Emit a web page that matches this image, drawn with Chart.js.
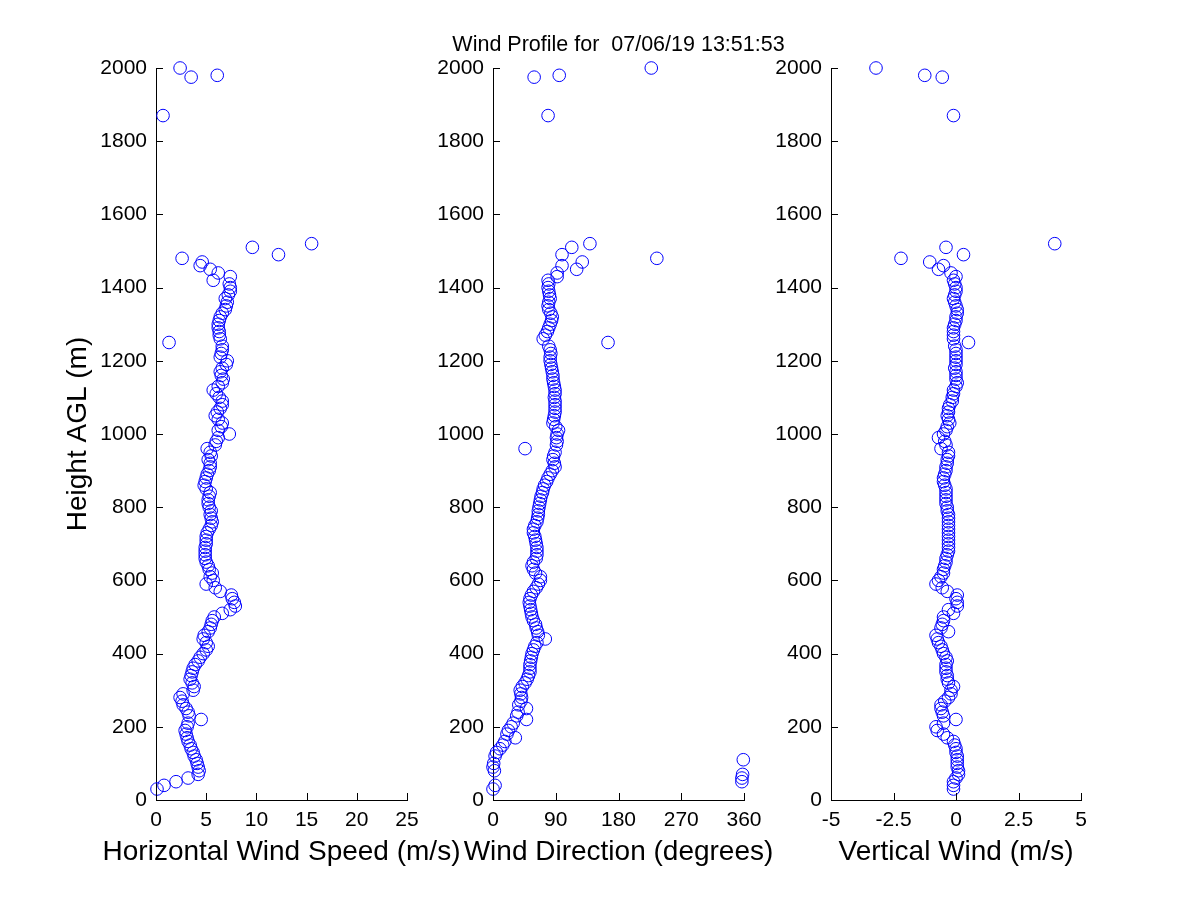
<!DOCTYPE html>
<html><head><meta charset="utf-8">
<script src="https://cdn.jsdelivr.net/npm/chart.js@4.4.1/dist/chart.umd.min.js"></script>
<style>
html,body{margin:0;padding:0;background:#fff;}
#wrap{position:relative;width:1200px;height:900px;background:#fff;}
canvas{position:absolute;left:0;top:0;}
</style>
</head><body>
<div id="wrap">
<canvas id="c1" width="1200" height="900"></canvas>
<canvas id="c2" width="1200" height="900"></canvas>
<canvas id="c3" width="1200" height="900"></canvas>
</div>
<script>
// Heights AGL (m)
const heights = [
  30,40,50,60,70,80,90,100,
  110,120,130,140,150,160,170,180,190,200,
  210,220,230,240,250,260,270,280,290,300,
  310,320,330,340,350,360,370,380,390,400,
  410,420,430,440,450,460,470,480,490,500,
  510,520,530,540,550,560,570,580,590,600,
  610,620,630,640,650,660,670,680,690,700,
  710,720,730,740,750,760,770,780,790,800,
  810,820,830,840,850,860,870,880,890,900,
  910,920,930,940,950,960,970,980,990,1000,
  1010,1020,1030,1040,1050,1060,1070,1080,1090,1100,
  1110,1120,1130,1140,1150,1160,1170,1180,1190,1200,
  1210,1220,1230,1240,1250,1260,1270,1280,1290,1300,
  1310,1320,1330,1340,1350,1360,1370,1380,1390,1400,
  1410,1420,1430,
  1440,1450,1460,1470,1480,1490,1510,1520,1870,1975,1980,2000
];
// Horizontal wind speed (m/s)
const speed = [
  0.1,0.8,2.0,3.2,4.2,4.3,4.2,4.1,
  4.0,3.8,3.7,3.5,3.4,3.2,3.1,3.0,2.9,3.1,
  3.2,4.5,3.3,3.2,3.0,2.7,2.6,2.4,2.7,3.7,
  3.8,3.6,3.4,3.5,3.6,3.7,3.9,4.2,4.4,4.7,
  5.0,5.2,5.0,4.7,4.8,5.2,5.4,5.5,5.6,5.8,
  6.6,7.4,7.9,7.8,7.6,7.5,6.4,5.9,5.0,5.7,
  5.4,5.6,5.3,5.2,5.0,4.9,4.9,4.9,4.9,5.0,
  5.0,5.0,5.1,5.3,5.5,5.6,5.5,5.4,5.5,5.3,
  5.2,5.2,5.3,5.4,5.0,4.8,4.9,5.0,5.1,5.3,
  5.4,5.4,5.2,5.5,5.4,5.1,5.9,6.0,6.2,7.3,
  6.2,6.5,6.6,6.2,5.9,6.1,6.4,6.6,6.6,6.3,
  6.0,5.7,6.2,6.6,6.7,6.5,6.4,6.6,7.0,7.1,
  6.4,6.5,6.6,6.6,1.3,6.4,6.3,6.3,6.2,6.2,
  6.3,6.4,6.6,6.9,7.0,7.1,6.9,7.2,7.4,7.4,
  7.3,5.7,7.4,
  6.2,5.4,4.4,4.6,2.6,12.2,9.6,15.5,0.7,3.5,6.1,2.4
];
// Wind direction (degrees)
const direction = [
  0,3,357,357,358,2,0,1,
  359,3,5,10,14,17,32,20,22,26,
  29,48,34,36,48,37,40,41,40,39,
  42,46,49,51,53,53,53,54,55,56,
  58,60,63,75,65,64,62,61,58,56,
  55,54,53,52,53,55,58,62,65,68,
  68,61,58,56,58,62,63,63,63,62,
  61,60,58,58,60,63,64,65,65,66,
  67,68,69,71,72,74,77,79,82,85,
  89,88,86,87,89,46,91,92,91,92,
  94,90,86,87,88,89,89,89,89,88,
  89,89,88,87,86,86,85,84,83,82,
  82,83,82,80,165,72,75,78,80,82,
  84,85,83,80,79,80,82,81,80,79,
  80,79,92,
  92,120,99,128,235,99,113,139,79,59,95,227
];
// Vertical wind (m/s)
const vertical = [
  -0.1,-0.1,-0.1,0.0,0.1,0.1,0.05,0.05,
  0.05,0.05,0.0,0.0,-0.05,-0.1,-0.35,-0.5,-0.75,-0.8,
  -0.5,0.0,-0.5,-0.55,-0.6,-0.6,-0.45,-0.3,-0.2,-0.2,
  -0.1,-0.3,-0.35,-0.35,-0.4,-0.4,-0.4,-0.35,-0.4,-0.5,
  -0.55,-0.6,-0.7,-0.75,-0.8,-0.3,-0.6,-0.55,-0.5,-0.5,
  -0.1,-0.3,0.05,0.05,0.0,0.05,-0.35,-0.55,-0.8,-0.7,
  -0.6,-0.5,-0.5,-0.45,-0.4,-0.4,-0.35,-0.3,-0.3,-0.3,
  -0.3,-0.3,-0.3,-0.3,-0.3,-0.3,-0.3,-0.3,-0.35,-0.35,
  -0.4,-0.4,-0.4,-0.4,-0.4,-0.45,-0.5,-0.5,-0.45,-0.4,
  -0.4,-0.35,-0.35,-0.3,-0.3,-0.6,-0.4,-0.45,-0.7,-0.5,
  -0.4,-0.35,-0.25,-0.3,-0.35,-0.3,-0.3,-0.25,-0.15,-0.15,
  -0.1,-0.1,0.0,0.05,0.0,0.0,0.0,-0.05,0.0,0.0,
  0.0,0.0,0.0,-0.05,0.5,-0.1,-0.1,-0.1,-0.1,-0.05,
  0.0,0.0,0.05,0.05,0.0,-0.05,-0.1,-0.05,0.0,0.0,
  -0.05,-0.1,0.0,
  -0.2,-0.7,-0.5,-1.05,-2.2,0.3,-0.4,3.95,-0.1,-0.55,-1.25,-3.2
];
const titleText = 'Wind Profile for  07/06/19 13:51:53';
const yLabel = 'Height AGL (m)';
const xLabels = ['Horizontal Wind Speed (m/s)', 'Wind Direction (degrees)', 'Vertical Wind (m/s)'];
const heightTicks = {min: 0, max: 2000, step: 200};
const xRanges = [{min: 0, max: 25, step: 5}, {min: 0, max: 360, step: 90}, {min: -5, max: 5, step: 2.5}];

const FONT = "'Liberation Sans', Arial, Helvetica, sans-serif";
Chart.defaults.font.family = FONT;
Chart.defaults.color = '#000';

const inwardTicks = {
  id: 'inwardTicks',
  afterDraw(chart) {
    const ctx = chart.ctx, a = chart.chartArea;
    const xs = chart.scales.x, ys = chart.scales.y;
    ctx.save();
    ctx.strokeStyle = '#000';
    ctx.lineWidth = 1;
    ctx.beginPath();
    xs.ticks.forEach(t => {
      const px = Math.round(xs.getPixelForValue(t.value)) + 0.5;
      ctx.moveTo(px, a.bottom);
      ctx.lineTo(px, a.bottom - 7);
    });
    ys.ticks.forEach(t => {
      const py = Math.round(ys.getPixelForValue(t.value)) + 0.5;
      ctx.moveTo(a.left, py);
      ctx.lineTo(a.left + 7, py);
    });
    ctx.stroke();
    ctx.restore();
  }
};

const axisText = {
  id: 'axisText',
  afterDraw(chart, args, opts) {
    const ctx = chart.ctx, a = chart.chartArea;
    const cx = (a.left + a.right) / 2;
    ctx.save();
    ctx.fillStyle = '#000';
    ctx.textAlign = 'center';
    ctx.textBaseline = 'alphabetic';
    if (opts.xTitle) {
      ctx.font = '28px ' + FONT;
      ctx.fillText(opts.xTitle, cx, 860);
    }
    if (opts.title) {
      ctx.font = '21.5px ' + FONT;
      ctx.fillText(opts.title, cx, 51);
    }
    ctx.restore();
  }
};

function makeChart(id, values, idx, leftPad, yWidth, rightPad, withYTitle, withTitle) {
  const pts = heights.map((h, i) => ({x: values[i], y: h}));
  const xr = xRanges[idx];
  return new Chart(document.getElementById(id), {
    type: 'scatter',
    data: {datasets: [{
      data: pts,
      pointStyle: 'circle',
      pointRadius: 6.3,
      pointHoverRadius: 6.3,
      borderWidth: 1,
      borderColor: '#0000ff',
      backgroundColor: 'rgba(0,0,0,0)',
      clip: false
    }]},
    options: {
      responsive: false,
      animation: false,
      devicePixelRatio: 1,
      events: [],
      layout: {padding: {left: leftPad, right: rightPad, top: 68, bottom: 20}},
      plugins: {
        legend: {display: false},
        tooltip: {enabled: false},
        title: {display: false},
        axisText: {xTitle: xLabels[idx], title: withTitle ? titleText : null}
      },
      scales: {
        x: {
          type: 'linear', min: xr.min, max: xr.max,
          ticks: {stepSize: xr.step, autoSkip: false, maxRotation: 0, padding: 0, font: {size: 21}, color: '#000',
                  callback: v => String(v)},
          grid: {display: false},
          border: {display: true, color: '#000', width: 1},
          afterFit(s) { s.height = 80; }
        },
        y: {
          type: 'linear', min: heightTicks.min, max: heightTicks.max,
          ticks: {stepSize: heightTicks.step, autoSkip: false, padding: 1, font: {size: 21}, color: '#000',
                  callback: v => String(v)},
          grid: {display: false},
          border: {display: true, color: '#000', width: 1},
          title: withYTitle ? {display: true, text: yLabel, font: {size: 28, lineHeight: 1}, color: '#000', padding: {top: 14, bottom: 0}} : {display: false},
          afterFit(s) { s.width = yWidth; }
        }
      }
    },
    plugins: [inwardTicks, axisText]
  });
}

makeChart('c1', speed, 0, 50, 106, 793, true, false);
makeChart('c2', direction, 1, 393, 100, 456, false, true);
makeChart('c3', vertical, 2, 731, 100, 119, false, false);
</script>
</body></html>
